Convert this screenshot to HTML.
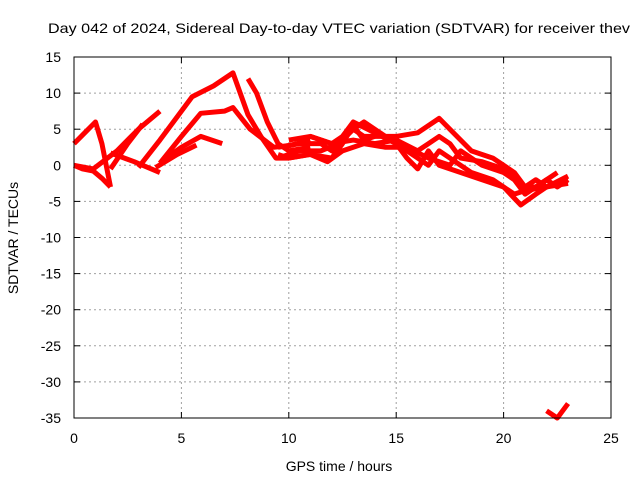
<!DOCTYPE html>
<html><head><meta charset="utf-8"><style>
html,body{margin:0;padding:0;background:#fff}
svg{display:block;font-family:"Liberation Sans",sans-serif;font-size:14px}
</style></head><body>
<svg id="c" width="640" height="480">
<text x="339" y="33" text-anchor="middle" textLength="582" lengthAdjust="spacingAndGlyphs">Day 042 of 2024, Sidereal Day-to-day VTEC variation (SDTVAR) for receiver thev</text>
<text x="339" y="471" text-anchor="middle">GPS time / hours</text>
<text transform="translate(18,238) rotate(-90)" text-anchor="middle">SDTVAR / TECUs</text>
<g id="grid"></g><g id="ticks"></g><g id="series"></g>
<rect x="74" y="57" width="537" height="361" fill="none" stroke="#000" stroke-width="1"/>
</svg>
<script>
const xTicks=[0,5,10,15,20,25];
const yTicks=[15,10,5,0,-5,-10,-15,-20,-25,-30,-35];
const s1t=[0,0.4,0.9,1.3,1.7]; const s1v=[0,-0.5,-0.8,-1.8,-3];
const s2t=[0,0.5,1,1.3,1.7]; const s2v=[3,4.5,6,3,-3];
const s3t=[0,0.9,2,3,4]; const s3v=[0,-0.5,2,5,7.5];
const s4t=[1.7,2.5,3.2]; const s4v=[-0.5,3,5.7];
const s5t=[1.7,2.8,4]; const s5v=[1.7,0.5,-1];
const s6t=[3,4,5.5,6.5,7.4,8.1,8.7,9.4,10,11,12,12.5,13,13.5,14]; const s6v=[-0.3,3.5,9.5,11,12.8,7,4,1,1,1.5,1,3,5.5,3.5,4];
const s7t=[4,5,5.9,7,7.4,8.2,9.3,10,11]; const s7v=[0.3,4,7.2,7.5,8,5,2.5,2.7,3.5];
const s8t=[4.1,5,5.9,6.9]; const s8v=[0.6,2.5,4,3];
const s9t=[3.8,4.8,5.7]; const s9v=[-0.3,1.5,2.8];
const s10t=[8.1,8.5,9,9.5,10,11]; const s10v=[12,10,6,3,2,2.5];
const r1t=[9.5,10.5,11.5,12.3,13,13.5,14,15,16,17,17.5,18.5,19.5,20.5,21,21.5,22,22.5,23]; const r1v=[1,2,2,3,5,4,4,4,4.5,6.5,5,2,1,-1,-3,-3,-2,-3,-2];
const r2t=[9.5,10.5,11.5,12,13,13.5,14.5,15,15.5,16,16.5,17,18,19,20,20.8,21.5,22,23]; const r2v=[2.5,3,3,2,5,6,4,3,1,-0.5,2,0,-1,-2,-3,-5.5,-4,-3,-2];
const r3t=[10,11,12,12.5,13,14,15,15.5,16.5,17,17.5,18.5,19.5,20.5,21,22,23]; const r3v=[3.5,4,3,4,6,4.5,3,2,0,2,1,-1,-2,-4,-3.5,-3,-2.5];
const r4t=[11,12,13,14,15,16,16.5,17,17.5,18,19,20,21,21.5,22,23]; const r4v=[4,3,3.5,3,3.5,2,3,4,3,1,0.5,-0.5,-3,-2,-3,-1.5];
const r5t=[9.5,10,11,11.8,12.5,13.5,14.5,15.5,16.5,17.5,18,19,20,20.5,21,22,22.5]; const r5v=[1.5,1,1.5,0.5,2,3,2.5,2.5,1,0,2,0,-1,-2,-4,-2,-1];
const o1t=[22,22.5,23]; const o1v=[-34,-35,-33];
const allT=[s1t,s2t,s3t,s4t,s5t,s6t,s7t,s8t,s9t,s10t,r1t,r2t,r3t,r4t,r5t,o1t];
const allV=[s1v,s2v,s3v,s4v,s5v,s6v,s7v,s8v,s9v,s10v,r1v,r2v,r3v,r4v,r5v,o1v];
const X=t=>74+t*537/25, Y=v=>57+(15-v)*361/50;
const NS="http://www.w3.org/2000/svg";
const g=document.getElementById('grid'),tk=document.getElementById('ticks'),se=document.getElementById('series');
function mk(tag,at,par){const e=document.createElementNS(NS,tag);for(const k in at)e.setAttribute(k,at[k]);par.appendChild(e);return e;}
xTicks.forEach(t=>{const x=X(t);
 if(t>0&&t<25){const l=mk('line',{x1:x,x2:x,y1:57,y2:418,stroke:'#a0a0a0','stroke-dasharray':'2,3'},g);
 
 }
 mk('line',{x1:x,x2:x,y1:418,y2:412,stroke:'#000'},tk);mk('line',{x1:x,x2:x,y1:57,y2:63,stroke:'#000'},tk);
 const tx=mk('text',{x:x,y:443,'text-anchor':'middle'},tk);tx.textContent=t;
 
 });
yTicks.forEach(v=>{const y=Y(v);
 if(v<15&&v>-35){const l=mk('line',{x1:74,x2:611,y1:y,y2:y,stroke:'#a0a0a0','stroke-dasharray':'2,3'},g);
 
 }
 mk('line',{x1:74,x2:80,y1:y,y2:y,stroke:'#000'},tk);mk('line',{x1:605,x2:611,y1:y,y2:y,stroke:'#000'},tk);
 const tx=mk('text',{x:61,y:y+5,'text-anchor':'end'},tk);tx.textContent=v;
 
 });
allT.forEach((ts,i)=>{const vs=allV[i];
 const p=mk('polyline',{points:ts.map((t,j)=>X(t)+','+Y(vs[j])).join(' '),fill:'none',stroke:'#ff0000','stroke-width':5,'stroke-linejoin':'round'},se);
 
 });
</script>
</body></html>
